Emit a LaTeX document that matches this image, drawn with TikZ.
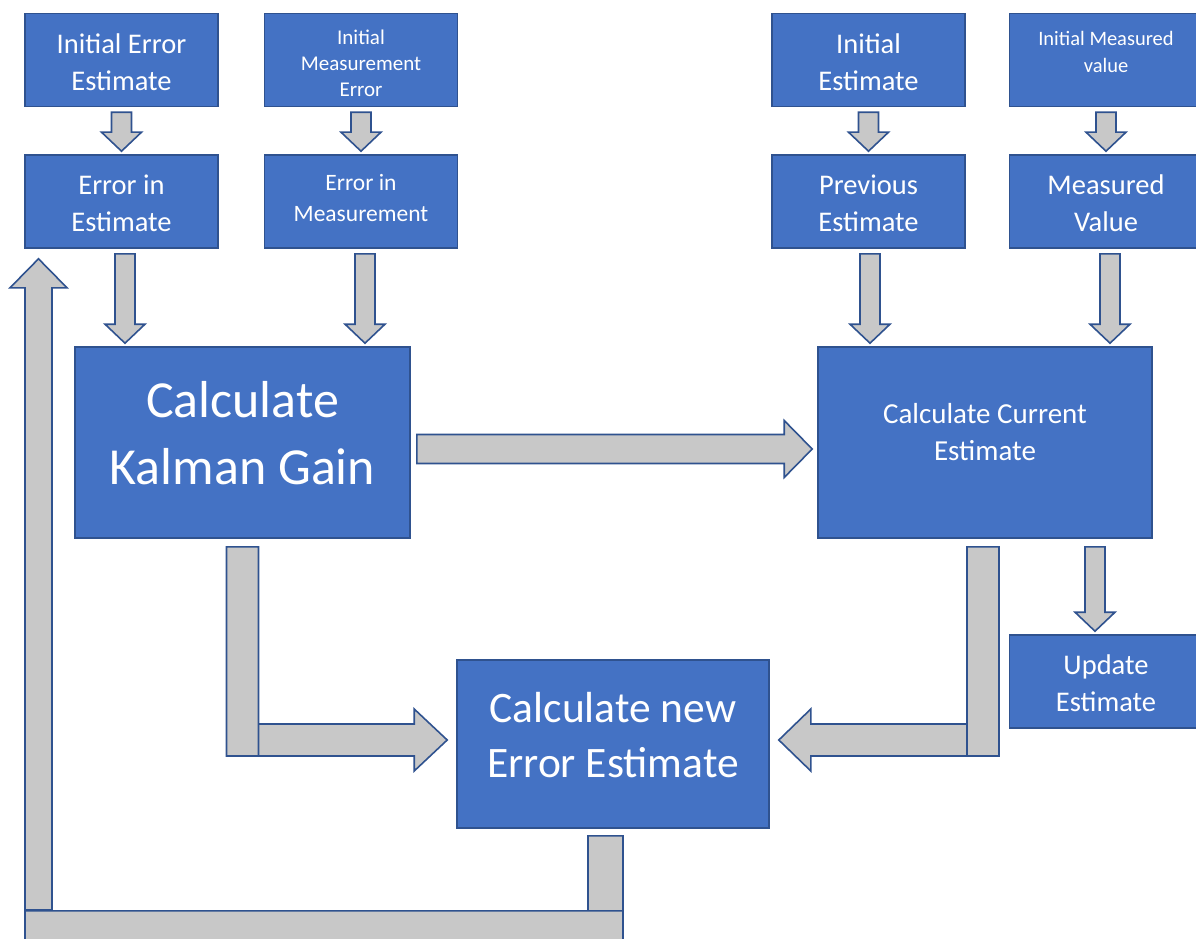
\documentclass[tikz,border=0pt]{standalone}
\usepackage{fontspec}
\setmainfont{Carlito}
\usepackage{xcolor}
\usepackage{tikz}
\usetikzlibrary{calc}

\definecolor{boxblue}{HTML}{4472C4}
\definecolor{edgeblue}{HTML}{2F528F}
\definecolor{arrgray}{HTML}{C8C8C8}

% block arrow pointing down: x and start from #1, tip just above #2
\newcommand{\downblk}[2]{%
  \draw[blk] let \p1=(#1), \p2=(#2) in
    (\x1-10pt,\y1-5pt) -- (\x1+10pt,\y1-5pt) -- (\x1+10pt,\y2+22pt)
    -- (\x1+20pt,\y2+22pt) -- (\x1,\y2+3pt) -- (\x1-20pt,\y2+22pt)
    -- (\x1-10pt,\y2+22pt) -- cycle;}

\begin{document}
\begin{tikzpicture}[x=1pt, y=-1pt,
  box/.style={rectangle, draw=edgeblue, fill=boxblue, line width=1.6pt,
    text=white, align=center, inner sep=0pt,
    minimum width=193pt, minimum height=93pt},
  blk/.style={draw=edgeblue, fill=arrgray, line width=1.6pt, line join=miter},
  mid/.style={font=\fontsize{28.5}{37}\selectfont, text height=61pt},
  small/.style={font=\fontsize{21}{26}\selectfont, text height=74pt},
  med/.style={font=\fontsize{23.5}{31}\selectfont}
]
\useasboundingbox (0,0) rectangle (1196,939);

% --- inputs ---
\node[box, mid] (ie) at (121.5,60) {Initial Error\\Estimate};
\node[box, small] (im) at (361,60) {Initial\\Measurement\\Error};
\node[box, mid] (is) at (868.5,60) {Initial\\Estimate};
\node[box, font=\fontsize{20.5}{27}\selectfont, text depth=16pt] (iv) at (1106,60) {Initial Measured\\value};

\node[box, mid] (ee) at (121.5,201.5) {Error in\\Estimate};
\node[box, med, text depth=8pt] (em) at (361,201.5) {Error in\\Measurement};
\node[box, mid] (pe) at (868.5,201.5) {Previous\\Estimate};
\node[box, mid] (mv) at (1106,201.5) {Measured\\Value};

% --- calculations ---
\node[box, minimum width=335pt, minimum height=191pt, text depth=19pt,
  font=\fontsize{52}{67}\selectfont] (kg) at (242.5,442.5) {Calculate\\Kalman Gain};
\node[box, minimum width=334pt, minimum height=191pt, text depth=21pt,
  font=\fontsize{29}{37}\selectfont] (ce) at (985,442.5) {Calculate Current\\Estimate};
\node[box, minimum width=312pt, minimum height=168pt, text depth=18pt,
  font=\fontsize{43.5}{55}\selectfont] (ne) at (613,744) {Calculate new\\Error Estimate};
\node[box, mid, text height=60pt] (ue) at (1106,681.5) {Update\\Estimate};

% --- down arrows ---
\downblk{ie.south}{ee.north}
\downblk{im.south}{em.north}
\downblk{is.south}{pe.north}
\downblk{iv.south}{mv.north}
\downblk{[xshift=3.5pt]ee.south}{kg.north}
\downblk{[xshift=4pt]em.south}{kg.north}
\downblk{[xshift=1.5pt]pe.south}{ce.north}
\downblk{[xshift=4pt]mv.south}{ce.north}
\downblk{[xshift=110pt, yshift=-3pt]ce.south}{ue.north}

% gain to current estimate
\draw[blk] let \p1=(kg.east), \p2=(ce.west) in
  (\x1+6pt,\y1-6.5pt+14.5pt) -- (\x2-33pt,\y1-6.5pt+14.5pt)
  -- (\x2-33pt,\y1-6.5pt+28.5pt) -- (\x2-5pt,\y1-6.5pt)
  -- (\x2-33pt,\y1-6.5pt-28.5pt) -- (\x2-33pt,\y1-6.5pt-14.5pt)
  -- (\x1+6pt,\y1-6.5pt-14.5pt) -- cycle;

% gain to new error estimate
\draw[blk] let \p1=(kg.south), \p2=(ne.west) in
  (\x1+16pt,\y2+20pt) -- (\x2-42pt,\y2+20pt) -- (\x2-42pt,\y2+35pt)
  -- (\x2-9pt,\y2+4pt) -- (\x2-42pt,\y2-27pt) -- (\x2-42pt,\y2-12pt)
  -- (\x1+16pt,\y2-12pt) -- cycle
  (\x1-16pt,\y1-8pt) rectangle (\x1+16pt,\y2-12pt);

% current estimate to new error estimate
\draw[blk] let \p1=(ce.south), \p2=(ne.east) in
  (\x1-18pt,\y2+20pt) -- (\x2+41pt,\y2+20pt) -- (\x2+41pt,\y2+35pt)
  -- (\x2+9pt,\y2+4pt) -- (\x2+41pt,\y2-27pt) -- (\x2+41pt,\y2-12pt)
  -- (\x1-18pt,\y2-12pt) -- cycle
  (\x1-18pt,\y1-8pt) rectangle (\x1+14pt,\y2-12pt);

% feedback to error in estimate
\draw[blk] let \p1=(ne.south), \p2=(ee.south) in
  (\x1-25pt,\y1-7pt) rectangle (\x1+10pt,\y1-82pt)
  (25,950) rectangle (\x1+10pt,\y1-82pt)
  (25,910) -- (25,\y2-39pt) -- (10,\y2-39pt) -- (38.5,\y2-10pt)
  -- (67,\y2-39pt) -- (52,\y2-39pt) -- (52,910) -- cycle;

\end{tikzpicture}
\end{document}
